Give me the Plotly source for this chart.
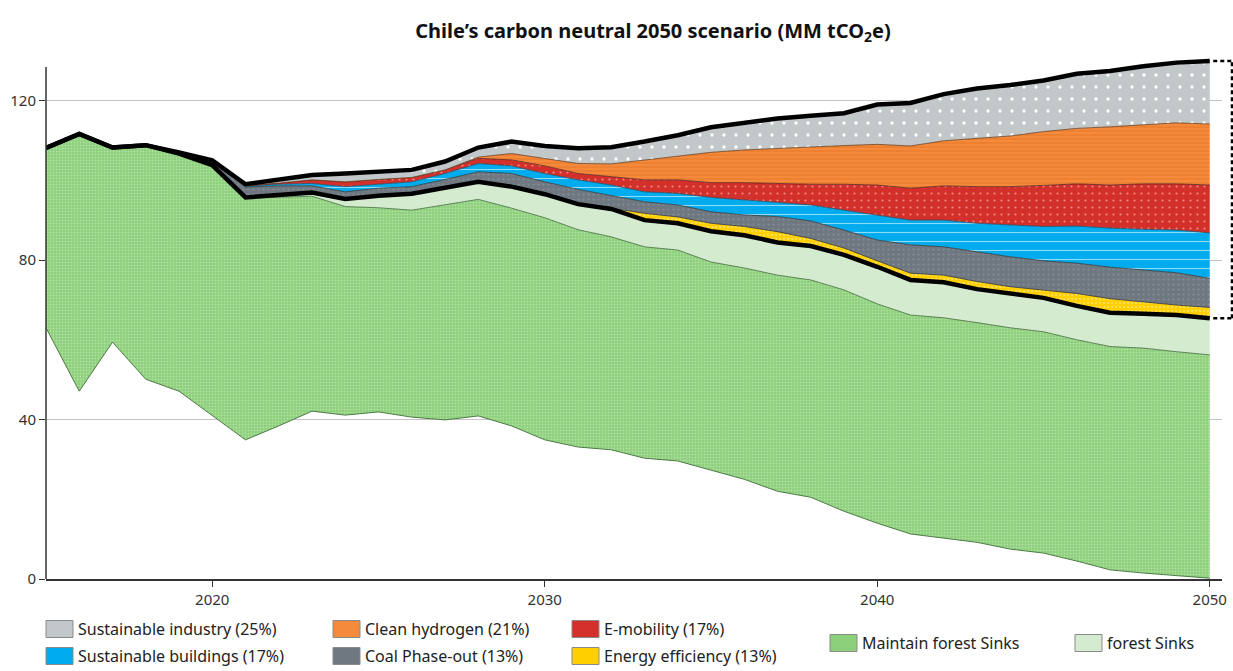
import plotly.graph_objects as go
import numpy as np

# ---------------- data (MM tCO2e) ----------------
years = list(range(2015, 2051))

# white base below the "maintain forest sinks" band (lower edge of green area)
base = [63.0, 47.1, 59.4, 50.1, 47.1, 41.0, 34.9, 38.4, 42.1, 41.1, 41.9, 40.6,
        39.9, 40.9, 38.4, 34.9, 33.1, 32.4, 30.3, 29.6, 27.3, 25.0, 22.0, 20.5,
        17.0, 14.0, 11.3, 10.3, 9.2, 7.5, 6.5, 4.5, 2.3, 1.5, 0.9, 0.2]

maintain_forest = [45.1, 64.5, 48.8, 58.7, 59.6, 62.8, 60.6, 57.3, 53.9, 52.3, 51.2, 51.9,
                   53.9, 54.3, 54.6, 55.7, 54.5, 53.4, 53.0, 52.9, 52.2, 53.0, 54.2, 54.5,
                   55.5, 55.0, 54.9, 55.2, 55.1, 55.5, 55.5, 55.5, 56.0, 56.4, 56.1, 56.0]

forest_sinks = [0, 0, 0, 0, 0, 0, 0.2, 0.6, 0.9, 1.9, 3.0, 4.1,
                4.2, 4.4, 5.4, 5.9, 6.4, 7.0, 6.7, 6.7, 7.7, 8.2, 8.2, 8.5,
                8.8, 9.3, 8.8, 8.9, 8.4, 8.5, 8.5, 8.5, 8.5, 8.6, 9.2, 9.2]

energy_efficiency = [0, 0, 0, 0, 0, 0, 0, 0, 0, 0, 0, 0,
                     0, 0, 0, 0, 0, 0.2, 1.7, 1.6, 2.0, 2.2, 2.7, 1.9,
                     1.7, 1.5, 1.7, 1.8, 1.9, 1.8, 2.0, 3.1, 3.5, 3.0, 2.5, 2.7]

coal_phase_out = [0, 0, 0, 0, 0.3, 1.2, 2.6, 2.3, 1.7, 1.8, 1.9, 1.8,
                  2.2, 2.5, 3.3, 3.1, 3.7, 3.1, 2.9, 3.0, 2.9, 2.9, 3.8, 4.4,
                  4.5, 5.2, 7.1, 7.1, 7.5, 7.5, 7.3, 7.6, 7.9, 8.0, 8.1, 7.3]

sustainable_buildings = [0, 0, 0, 0, 0, 0, 0.2, 0.4, 0.6, 1.3, 1.0, 1.2,
                         1.5, 2.1, 1.9, 2.1, 2.4, 2.7, 2.5, 2.9, 3.6, 3.8, 3.6, 4.0,
                         5.0, 6.3, 6.2, 6.7, 7.1, 8.0, 8.6, 9.3, 9.8, 10.2, 10.7, 11.4]

e_mobility = [0, 0, 0, 0, 0, 0, 0.2, 0.3, 0.9, 1.2, 1.2, 1.1,
              0.9, 1.3, 1.5, 1.9, 1.6, 2.1, 3.0, 3.4, 3.7, 4.3, 4.7, 5.2,
              6.5, 7.5, 8.0, 8.6, 9.2, 9.6, 10.3, 10.6, 10.8, 11.4, 11.6, 12.0]

clean_hydrogen = [0, 0, 0, 0, 0, 0, 0, 0, 0, 0, 0, 0,
                  0, 0.3, 1.6, 1.9, 2.5, 3.2, 5.0, 6.0, 7.6, 8.2, 8.8, 9.4,
                  9.7, 10.2, 10.6, 11.3, 12.1, 12.7, 13.5, 13.9, 14.6, 14.8, 15.3, 15.3]

sustainable_industry = [0, 0, 0, 0, 0, 0, 0.3, 0.8, 1.2, 2.1, 2.0, 1.9,
                        2.1, 2.4, 3.0, 3.1, 3.8, 4.2, 4.6, 5.2, 6.3, 6.9, 7.5, 7.8,
                        8.1, 10.0, 10.8, 11.7, 12.5, 12.8, 12.8, 13.7, 14.0, 14.7, 15.1, 15.8]

names = ["Maintain forest Sinks", "forest Sinks", "Energy efficiency (13%)",
         "Coal Phase-out (13%)", "Sustainable buildings (17%)", "E-mobility (17%)",
         "Clean hydrogen (21%)", "Sustainable industry (25%)"]

x_ticks = [2020, 2030, 2040, 2050]
y_ticks = [0, 40, 80, 120]
title_text = "Chile’s carbon neutral 2050 scenario (MM tCO<sub>2</sub>e)"

# ---------------- styles ----------------
series = [maintain_forest, forest_sinks, energy_efficiency, coal_phase_out,
          sustainable_buildings, e_mobility, clean_hydrogen, sustainable_industry]
fills = ["#8ccf7b", "#d5ebcf", "#ffcf00", "#6f7881", "#00acee", "#d4302b", "#f58a3b", "#c2c7ca"]
patterns = [
    dict(shape=".", fgcolor="#b3e2a5", size=3, solidity=0.3),
    None,
    dict(shape=".", fgcolor="#ffe46a", size=4, solidity=0.2),
    dict(shape=".", fgcolor="#848d95", size=5, solidity=0.15),
    dict(shape="-", fgcolor="#8edbf7", size=9, solidity=0.12),
    dict(shape=".", fgcolor="#ee8f84", size=7, solidity=0.07),
    dict(shape="-", fgcolor="#ea7a2c", size=4, solidity=0.3),
    dict(shape=".", fgcolor="#ffffff", size=12, solidity=0.06),
]
edge = ["#3e6b37", "#5d7f57", "#333333", "#333333", "#1b4f6a", "#5a1f1c", "#6a3d1c", "#555555"]

W, H = 1233, 671
ml, mr, mt, mb = 46, 11, 57, 92
plot_w, plot_h = W - ml - mr, H - mt - mb
px_per_year = 33.25
px_per_unit = 3.9875
x_max = 2015 + plot_w / px_per_year
y_max = plot_h / px_per_unit

fig = go.Figure()

# invisible base so the green band floats above the white area
fig.add_trace(go.Scatter(x=years, y=base, stackgroup="s", mode="lines",
                         line=dict(color="#4d7a45", width=1),
                         fillcolor="rgba(0,0,0,0)", hoverinfo="skip"))

for name, vals, fc, pat, ec in zip(names, series, fills, patterns, edge):
    kw = dict(x=years, y=vals, name=name, stackgroup="s", mode="lines",
              line=dict(color=ec, width=0.8), fillcolor=fc)
    if pat is not None:
        kw["fillpattern"] = dict(shape=pat["shape"], fgcolor=pat["fgcolor"], bgcolor=fc,
                                 size=pat["size"], solidity=pat["solidity"], fillmode="replace")
    fig.add_trace(go.Scatter(**kw))

net = np.array(base) + np.array(maintain_forest) + np.array(forest_sinks)
total = net + np.array(energy_efficiency) + np.array(coal_phase_out) + \
    np.array(sustainable_buildings) + np.array(e_mobility) + \
    np.array(clean_hydrogen) + np.array(sustainable_industry)

for yy in (net, total):
    fig.add_trace(go.Scatter(x=years, y=yy, mode="lines",
                             line=dict(color="black", width=4.5), hoverinfo="skip"))

def pxx(px):
    return (px - ml) / plot_w

def pxy(py):
    return (H - mb - py) / plot_h

shapes = []
# y axis line (ends slightly below the top of the drawing)
shapes.append(dict(type="line", xref="paper", yref="y", x0=0, x1=0, y0=0, y1=128.4,
                   line=dict(color="#333333", width=1.5)))
# dashed bracket at the right, from total to net in 2050
xb = pxx(1232)
x50 = (years[-1] - 2015) / (x_max - 2015)
dash_line = dict(color="black", width=2.5, dash="4px,3px")
shapes.append(dict(type="line", xref="paper", yref="y", x0=x50 + 0.003, x1=xb,
                   y0=total[-1], y1=total[-1], line=dash_line))
shapes.append(dict(type="line", xref="paper", yref="y", x0=xb, x1=xb,
                   y0=net[-1], y1=total[-1], line=dash_line))
shapes.append(dict(type="line", xref="paper", yref="y", x0=x50 + 0.003, x1=xb,
                   y0=net[-1], y1=net[-1], line=dash_line))

# manual legend
annotations = []
legend_slots = {
    "Sustainable industry (25%)": (46, 629),
    "Clean hydrogen (21%)": (333, 629),
    "E-mobility (17%)": (572, 629),
    "Sustainable buildings (17%)": (46, 656),
    "Coal Phase-out (13%)": (333, 656),
    "Energy efficiency (13%)": (572, 656),
    "Maintain forest Sinks": (830, 643),
    "forest Sinks": (1075, 643),
}
for name, fc, ec in zip(names, fills, edge):
    sx, sy = legend_slots[name]
    shapes.append(dict(type="rect", xref="paper", yref="paper",
                       x0=pxx(sx), x1=pxx(sx + 27), y0=pxy(sy + 8.5), y1=pxy(sy - 8.5),
                       fillcolor=fc, line=dict(color="#8a8a8a", width=1)))
    annotations.append(dict(text=name, xref="paper", yref="paper", x=pxx(sx + 30), y=pxy(sy),
                            xanchor="left", yanchor="middle", showarrow=False,
                            font=dict(family="Noto Sans", size=16, color="#222222")))

fig.update_layout(
    width=W, height=H,
    margin=dict(l=ml, r=mr, t=mt, b=mb, autoexpand=False),
    paper_bgcolor="white", plot_bgcolor="white",
    showlegend=False,
    title=dict(text=title_text, x=653 / W, xref="container", xanchor="center",
               y=1 - 31 / H, yref="container", yanchor="middle",
               font=dict(family="Noto Sans", size=20, color="#111111", weight="bold")),
    xaxis=dict(range=[2015, x_max], tickvals=x_ticks, showgrid=False, zeroline=False,
               automargin=False,
               showline=True, linecolor="#333333", linewidth=1.5,
               ticks="outside", ticklen=6, tickcolor="#333333", tickwidth=1.2,
               tickfont=dict(family="Noto Sans", size=15, color="#333333")),
    yaxis=dict(range=[0, y_max], tickvals=y_ticks, showgrid=True, gridcolor="#c4c4c4",
               gridwidth=1, zeroline=False, showline=False, automargin=False,
               ticks="outside", ticklen=6, tickcolor="#333333", tickwidth=1.2,
               tickfont=dict(family="Noto Sans", size=15, color="#333333")),
    shapes=shapes,
    annotations=annotations,
)

fig.write_html("out.html", config={"displayModeBar": False},
               post_script="document.body.style.margin='0';document.body.style.overflow='hidden';")
